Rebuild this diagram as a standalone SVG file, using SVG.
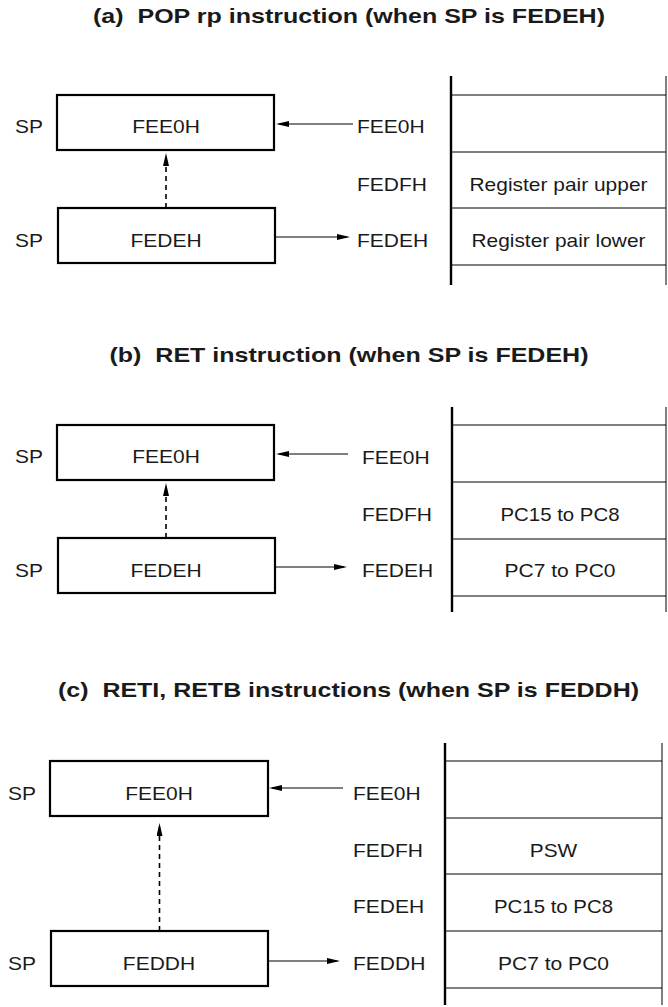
<svg xmlns="http://www.w3.org/2000/svg" width="668" height="1007" viewBox="0 0 668 1007">
<defs>
<style>
.t{font-family:"Liberation Sans",Arial,sans-serif;font-size:18.5px;fill:#1a1a1a}
.h{font-family:"Liberation Sans",Arial,sans-serif;font-size:21px;font-weight:bold;fill:#1a1a1a}
.c{text-anchor:middle}
.box{fill:#fff;stroke:#000;stroke-width:2.2}
.ln{stroke:#000;stroke-width:1;fill:none}
.tl{stroke:#000;stroke-width:2.4;fill:none}
.dash{stroke:#000;stroke-width:1.6;stroke-dasharray:5 4;fill:none}
</style>
<marker id="ah" markerUnits="userSpaceOnUse" markerWidth="14" markerHeight="6" refX="10" refY="3" orient="auto">
<path d="M0,0 L13,3 L0,6 z" fill="#000"/>
</marker>
</defs>
<rect width="668" height="1007" fill="#fff"/>

<!-- (a) -->
<text class="h" x="93" y="23" textLength="512" lengthAdjust="spacingAndGlyphs" xml:space="preserve">(a)  POP rp instruction (when SP is FEDEH)</text>
<g id="a-sp1">
<rect class="box" x="57" y="95" width="217" height="55"/>
<text class="t" x="15" y="133" textLength="28" lengthAdjust="spacingAndGlyphs">SP</text>
<text class="t c" x="166" y="133" textLength="67.7" lengthAdjust="spacingAndGlyphs">FEE0H</text>
</g>
<g id="a-sp2">
<rect class="box" x="58" y="208" width="217" height="55"/>
<text class="t" x="15" y="247" textLength="28" lengthAdjust="spacingAndGlyphs">SP</text>
<text class="t c" x="166" y="247" textLength="71.2" lengthAdjust="spacingAndGlyphs">FEDEH</text>
</g>
<g id="a-stack">
<line class="tl" x1="451" y1="76" x2="451" y2="285"/>
<line class="ln" x1="666" y1="76" x2="666" y2="285"/>
<line class="ln" x1="451" y1="95" x2="666" y2="95"/>
<line class="ln" x1="451" y1="152" x2="666" y2="152"/>
<line class="ln" x1="451" y1="208" x2="666" y2="208"/>
<line class="ln" x1="451" y1="265" x2="666" y2="265"/>
<text class="t" x="357" y="133" textLength="67.7" lengthAdjust="spacingAndGlyphs">FEE0H</text>
<text class="t" x="357" y="191" textLength="70" lengthAdjust="spacingAndGlyphs">FEDFH</text>
<text class="t" x="357" y="247" textLength="71.2" lengthAdjust="spacingAndGlyphs">FEDEH</text>
<text class="t c" x="558.5" y="191" textLength="178" lengthAdjust="spacingAndGlyphs">Register pair upper</text>
<text class="t c" x="558.5" y="247" textLength="174" lengthAdjust="spacingAndGlyphs">Register pair lower</text>
</g>

<!-- (b) -->
<text class="h" x="109.5" y="362" textLength="479" lengthAdjust="spacingAndGlyphs" xml:space="preserve">(b)  RET instruction (when SP is FEDEH)</text>
<g id="b-sp1">
<rect class="box" x="57" y="425" width="217" height="55"/>
<text class="t" x="15" y="463" textLength="28" lengthAdjust="spacingAndGlyphs">SP</text>
<text class="t c" x="166" y="463" textLength="67.7" lengthAdjust="spacingAndGlyphs">FEE0H</text>
</g>
<g id="b-sp2">
<rect class="box" x="58" y="538" width="217" height="55"/>
<text class="t" x="15" y="577" textLength="28" lengthAdjust="spacingAndGlyphs">SP</text>
<text class="t c" x="166" y="577" textLength="71.2" lengthAdjust="spacingAndGlyphs">FEDEH</text>
</g>
<g id="b-stack">
<line class="tl" x1="452" y1="407" x2="452" y2="612"/>
<line class="ln" x1="666" y1="407" x2="666" y2="612"/>
<line class="ln" x1="452" y1="425" x2="666" y2="425"/>
<line class="ln" x1="452" y1="482" x2="666" y2="482"/>
<line class="ln" x1="452" y1="539" x2="666" y2="539"/>
<line class="ln" x1="452" y1="596" x2="666" y2="596"/>
<text class="t" x="362" y="464" textLength="67.7" lengthAdjust="spacingAndGlyphs">FEE0H</text>
<text class="t" x="362" y="520.5" textLength="70" lengthAdjust="spacingAndGlyphs">FEDFH</text>
<text class="t" x="362" y="577" textLength="71.2" lengthAdjust="spacingAndGlyphs">FEDEH</text>
<text class="t c" x="560" y="520.5" textLength="119" lengthAdjust="spacingAndGlyphs">PC15 to PC8</text>
<text class="t c" x="560" y="577" textLength="111" lengthAdjust="spacingAndGlyphs">PC7 to PC0</text>
</g>

<!-- (c) -->
<text class="h" x="58" y="697" textLength="581" lengthAdjust="spacingAndGlyphs" xml:space="preserve">(c)  RETI, RETB instructions (when SP is FEDDH)</text>
<g id="c-sp1">
<rect class="box" x="50" y="761" width="218" height="55"/>
<text class="t" x="8" y="800" textLength="28" lengthAdjust="spacingAndGlyphs">SP</text>
<text class="t c" x="159" y="800" textLength="67.7" lengthAdjust="spacingAndGlyphs">FEE0H</text>
</g>
<g id="c-sp2">
<rect class="box" x="51" y="931" width="217" height="55"/>
<text class="t" x="8" y="970" textLength="28" lengthAdjust="spacingAndGlyphs">SP</text>
<text class="t c" x="159" y="970" textLength="72.3" lengthAdjust="spacingAndGlyphs">FEDDH</text>
</g>
<g id="c-stack">
<line class="tl" x1="445" y1="743" x2="445" y2="1005"/>
<line class="ln" x1="662" y1="743" x2="662" y2="1005"/>
<line class="ln" x1="445" y1="761" x2="662" y2="761"/>
<line class="ln" x1="445" y1="818" x2="662" y2="818"/>
<line class="ln" x1="445" y1="874" x2="662" y2="874"/>
<line class="ln" x1="445" y1="931" x2="662" y2="931"/>
<line class="ln" x1="445" y1="988" x2="662" y2="988"/>
<text class="t" x="353" y="800" textLength="67.7" lengthAdjust="spacingAndGlyphs">FEE0H</text>
<text class="t" x="353" y="857" textLength="70" lengthAdjust="spacingAndGlyphs">FEDFH</text>
<text class="t" x="353" y="913" textLength="71.2" lengthAdjust="spacingAndGlyphs">FEDEH</text>
<text class="t" x="353" y="970" textLength="72.3" lengthAdjust="spacingAndGlyphs">FEDDH</text>
<text class="t c" x="553.5" y="857" textLength="47.5" lengthAdjust="spacingAndGlyphs">PSW</text>
<text class="t c" x="553.5" y="913" textLength="119" lengthAdjust="spacingAndGlyphs">PC15 to PC8</text>
<text class="t c" x="553.5" y="970" textLength="111" lengthAdjust="spacingAndGlyphs">PC7 to PC0</text>
</g>

<g id="connectors">
<line class="ln" x1="353" y1="124" x2="279" y2="124" marker-end="url(#ah)"/>
<line class="ln" x1="275" y1="237" x2="347" y2="237" marker-end="url(#ah)"/>
<line class="dash" x1="166" y1="208" x2="166" y2="156" marker-end="url(#ah)"/>

<line class="ln" x1="348" y1="454" x2="279" y2="454" marker-end="url(#ah)"/>
<line class="ln" x1="275" y1="567" x2="344" y2="567" marker-end="url(#ah)"/>
<line class="dash" x1="166" y1="538" x2="166" y2="486" marker-end="url(#ah)"/>

<line class="ln" x1="343" y1="788" x2="272" y2="788" marker-end="url(#ah)"/>
<line class="ln" x1="268" y1="961" x2="337" y2="961" marker-end="url(#ah)"/>
<line class="dash" x1="159.5" y1="931" x2="159.5" y2="826" marker-end="url(#ah)"/>
</g>
</svg>
